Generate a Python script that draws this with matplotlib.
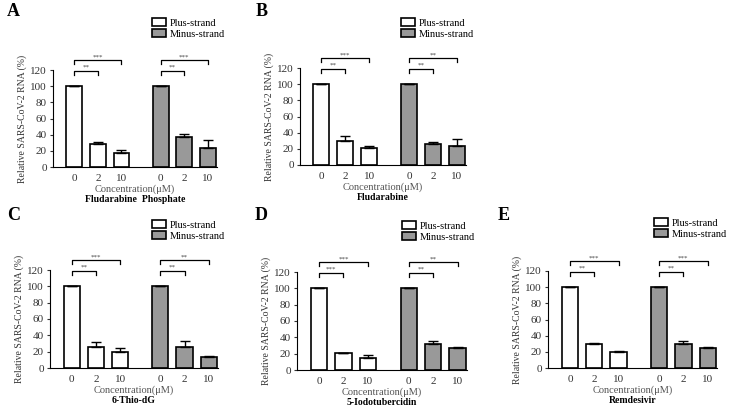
import numpy as np
import matplotlib
matplotlib.use('Agg')
import matplotlib.pyplot as plt

plt.rcParams['font.family'] = 'Liberation Serif'

# data
doses = ['0', '2', '10']
drugs = ['Fludarabine  Phosphate', 'Fludarabine', '6-Thio-dG', '5-Iodotubercidin', 'Remdesivir']
letters = ['A', 'B', 'C', 'D', 'E']
plus_vals = [[100, 28, 17], [100, 30, 21.5], [100, 25.5, 19], [100, 20.4, 14.3], [100, 29.8, 19.6]]
plus_err = [[0, 3, 3.7], [0, 6, 2], [0, 6, 6], [0, 0.5, 4.5], [0, 1.2, 1.6]]
minus_vals = [[100, 37, 24], [100, 25.5, 23.8], [100, 25.5, 14], [100, 31.8, 27], [100, 29.8, 24.5]]
minus_err = [[0, 3.3, 9], [0, 3.3, 8], [0, 7, 0.8], [0, 3.3, 1.2], [0, 3.3, 1.5]]
# significance: (plus low, plus high, minus low, minus high)
stars = [('**', '***', '**', '***'),
         ('**', '***', '**', '**'),
         ('**', '***', '**', '**'),
         ('***', '***', '**', '**'),
         ('**', '***', '**', '***')]

W, H = 733, 409
fig = plt.figure(figsize=(W / 100, H / 100), dpi=100)

# pixel layout of each panel: y-axis x, right end x, top (120) y, bottom (0) y
boxes = [(53, 217, 70, 167), (300, 466, 68, 165), (50, 218, 270, 368),
         (297, 467, 272, 370), (548, 717, 271, 368)]
legend_pos = [(152, 18), (401, 18), (152, 220), (402, 221), (654, 218)]
letter_pos = [(7, 12), (256, 12), (7, 215), (255, 215), (498, 215)]

x_plus = np.array([0, 1, 2])
x_minus = np.array([0, 1, 2]) + 3.667
bw = 0.67

for i in range(5):
    l, r, t, b = boxes[i]
    ax = fig.add_axes([l / W, 1 - b / H, (r - l) / W, (b - t) / H])
    bp = ax.bar(x_plus, plus_vals[i], bw, color='white', edgecolor='black', linewidth=1.2,
                label='Plus-strand', zorder=2)
    bm = ax.bar(x_minus, minus_vals[i], bw, color='#999999', edgecolor='black', linewidth=1.2,
                label='Minus-strand', zorder=2)
    ax.errorbar(x_plus, plus_vals[i], yerr=[np.zeros(3), plus_err[i]], fmt='none',
                ecolor='black', elinewidth=1, capsize=3.5, capthick=1, zorder=3)
    ax.errorbar(x_minus, minus_vals[i], yerr=[np.zeros(3), minus_err[i]], fmt='none',
                ecolor='black', elinewidth=1, capsize=3.5, capthick=1, zorder=3)
    ax.set_xlim(-0.9, 6.05)
    ax.set_ylim(0, 120)
    ax.set_yticks(range(0, 121, 20))
    ax.set_xticks(list(x_plus) + list(x_minus))
    ax.set_xticklabels(doses * 2)
    ax.spines['top'].set_visible(False)
    ax.spines['right'].set_visible(False)
    ax.tick_params(axis='both', labelsize=8, length=2.5, width=0.8, colors='#333333', pad=2)
    ax.tick_params(axis='x', length=0, pad=5)
    ax.set_ylabel('Relative SARS-CoV-2 RNA (%)', fontsize=7, color='#333333', labelpad=2)
    ax.set_xlabel('Concentration(\u03bcM)', fontsize=7.5, color='#555555', labelpad=1)
    ax.text(0.5, -0.29, drugs[i], transform=ax.transAxes, ha='center', va='top',
            fontsize=7, fontweight='bold')

    # significance brackets
    s = stars[i]
    for x0, (lo, hi) in ((x_plus[0], (s[0], s[1])), (x_minus[0], (s[2], s[3]))):
        for x1, lev, lab in ((x0 + 1, 119, lo), (x0 + 2, 132, hi)):
            ax.plot([x0, x0, x1, x1], [lev - 5, lev, lev, lev - 5], color='black', lw=0.9,
                    clip_on=False)
            ax.text((x0 + x1) / 2, lev + 1, lab, ha='center', va='bottom', fontsize=5,
                    color='#444444', clip_on=False)

    lx, ly = legend_pos[i]
    ax.legend(handles=[bp, bm], loc='upper left', bbox_to_anchor=(lx / W, 1 - ly / H),
              bbox_transform=fig.transFigure, frameon=False, fontsize=7.5,
              handlelength=1.3, handleheight=0.8, handletextpad=0.4, labelspacing=0.15,
              borderpad=0, borderaxespad=0)

    px, py = letter_pos[i]
    fig.text(px / W, 1 - py / H, letters[i], fontsize=13, fontweight='bold', va='center')

fig.savefig('out.png', dpi=100)
